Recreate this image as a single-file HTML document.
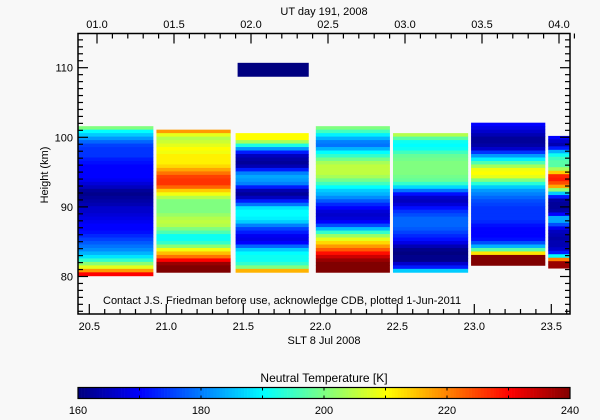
<!DOCTYPE html>
<html><head><meta charset="utf-8"><style>
body{margin:0;background:#f8f8f8}
svg{display:block;font-family:"Liberation Sans",sans-serif}
</style></head><body>
<svg id="c" width="600" height="420" xmlns="http://www.w3.org/2000/svg"></svg>
<script>
// ---- data ----
const colStart=[20.428,20.936,21.45,21.971,22.472,22.979,23.48];
const colEnd=[20.916,21.418,21.925,22.452,22.96,23.461,23.63];
const colTop=[101.6,101.1,100.6,101.6,100.6,102.1,100.2];
const binKm=0.5;
const col1=[200,190,186,182,178,175,174,174,174,172,171,170,170,170,170,169,167,165,162,161,162,163,164,166,166,167,168,169,170,170,171,173,175,177,179,181,184,188,194,201,208,218,230];
const col2=[218,208,204,206,208,210,209,211,211,211,213,217,221,225,226,226,222,214,209,204,200,200,200,200,202,204,205,204,200,196,191,191,194,201,209,215,221,230,238,240,240];
const col3=[210,210,203,192,182,172,165,163,162,164,172,180,183,182,180,172,164,162,165,172,179,188,190,190,189,186,180,175,172,169,168,170,178,186,190,191,191,194,200,216];
const col4=[200,195,189,184,180,179,184,190,194,199,203,205,205,205,203,199,195,190,186,184,181,177,173,170,167,166,167,170,176,185,194,202,208,213,218,223,229,234,238,240,240,240];
const col5=[204,197,191,190,191,195,198,199,200,200,200,200,199,198,194,187,179,171,166,165,167,171,174,176,178,178,178,177,175,173,171,168,164,161,160,161,161,166,172,186];
const col6=[170,168,166,164,162,162,163,166,174,182,189,196,203,209,210,208,200,193,186,182,180,178,176,175,174,174,174,174,173,171,170,170,170,171,176,184,197,212,240,240,240];
const col7=[170,166,164,172,184,191,195,197,197,203,214,227,228,224,217,201,186,172,163,162,162,163,170,183,183,176,169,165,164,163,164,164,166,172,190,220,238,238];
const profiles=[col1,col2,col3,col4,col5,col6,col7];
const blockStart=21.463, blockEnd=21.925, blockBottom=108.7, blockTopKm=110.7, blockTemp=160;
const sltTicks=[20.5,21.0,21.5,22.0,22.5,23.0,23.5];
const utTicks=["01.0","01.5","02.0","02.5","03.0","03.5","04.0"];
const hTicks=[80,90,100,110];
const cbTicks=[160,180,200,220,240];

// ---- scales ----
const L=78,R=570,T=33.5,B=314;
const x=s=>89.3+(s-20.5)*154;
const y=h=>137.3-(h-100)*6.96;
const cx=t=>78+(t-160)/80*492;
function jet(t){let v=Math.max(0,Math.min(1,(t-160)/80));
 const f=(a)=>Math.max(0,Math.min(1,1.5-Math.abs(4*v-a)));
 const r=f(3),g=f(2),b=f(1);
 return `rgb(${Math.round(r*255)},${Math.round(g*255)},${Math.round(b*255)})`;}
const svg=document.getElementById('c');
const NS="http://www.w3.org/2000/svg";
function el(tag,attrs,parent){const e=document.createElementNS(NS,tag);for(const k in attrs)e.setAttribute(k,attrs[k]);(parent||svg).appendChild(e);return e;}
function txt(s,xx,yy,anchor,size,parent){const e=el('text',{x:xx,y:yy,'text-anchor':anchor||'middle','font-size':size||11,fill:'#000'},parent);e.textContent=s;return e;}

const bg=el('rect',{x:0,y:0,width:600,height:420,fill:'#f8f8f8'});



// columns
profiles.forEach((p,ci)=>{
 const g=el('g',{});
 
 
 const x0=x(colStart[ci]),x1=Math.min(x(colEnd[ci]),R);
 p.forEach((t,i)=>{
  const hTop=colTop[ci]-i*binKm, hBot=hTop-binKm;
  const r=el('rect',{x:x0,y:y(hTop),width:x1-x0,height:y(hBot)-y(hTop)+0.4,fill:jet(t)},g);
  
  
 });
});
const blk=el('rect',{x:x(blockStart),y:y(blockTopKm),width:x(blockEnd)-x(blockStart),height:y(blockBottom)-y(blockTopKm),fill:jet(blockTemp)});



// frame
const fr=el('rect',{x:L,y:T,width:R-L,height:B-T,fill:'none',stroke:'#000','stroke-width':1.5});


const ax=el('g',{stroke:'#000','stroke-width':1.2});


for(let s=20.5;s<=23.61;s+=0.1){const X=x(s);const maj=Math.abs(((s*10)%5))<0.01||Math.abs(((s*10)%5)-5)<0.01;const len=maj?10:5;
 if(X<L||X>R)continue;
 el('line',{x1:X,y1:B,x2:X,y2:B-len},ax);el('line',{x1:X+7.7,y1:T,x2:X+7.7,y2:T+len},ax);}
for(let h=75;h<=114;h++){const Y=y(h);const len=h%10==0?10:5;
 el('line',{x1:L,y1:Y,x2:L+len,y2:Y},ax);el('line',{x1:R,y1:Y,x2:R-len,y2:Y},ax);}
sltTicks.forEach(s=>{const t=txt(s.toFixed(1),x(s),330);});
utTicks.forEach((u,i)=>{const t=txt(u,x(sltTicks[i])+7.7,28);});
hTicks.forEach(h=>{const t=txt(String(h),L-5,y(h)+4,'end');});
let t1=txt('UT day 191, 2008',324,15);
let t2=txt('SLT 8 Jul 2008',324,344);
let t3=txt('Height (km)',0,0);t3.setAttribute('transform','translate(48,175) rotate(-90)');
let t4=txt('Contact J.S. Friedman before use, acknowledge CDB, plotted 1-Jun-2011',103,304,'start');

// colorbar
const cb=el('g',{});


for(let t=160;t<240;t+=0.5){el('rect',{x:cx(t),y:387.5,width:cx(t+0.5)-cx(t)+0.3,height:11,fill:jet(t)},cb);}
el('rect',{x:78,y:387.5,width:492,height:11,fill:'none',stroke:'#000','stroke-width':1.2},cb);
for(let t=170;t<240;t+=10){el('line',{x1:cx(t),y1:387.5,x2:cx(t),y2:390.5,stroke:'#000'},cb);el('line',{x1:cx(t),y1:398.5,x2:cx(t),y2:395.5,stroke:'#000'},cb);}
cbTicks.forEach(t=>{const e=txt(String(t),cx(t),414,'middle',11,cb);});
let t5=txt('Neutral Temperature [K]',324,382,'middle',12);
</script>
</body></html>
